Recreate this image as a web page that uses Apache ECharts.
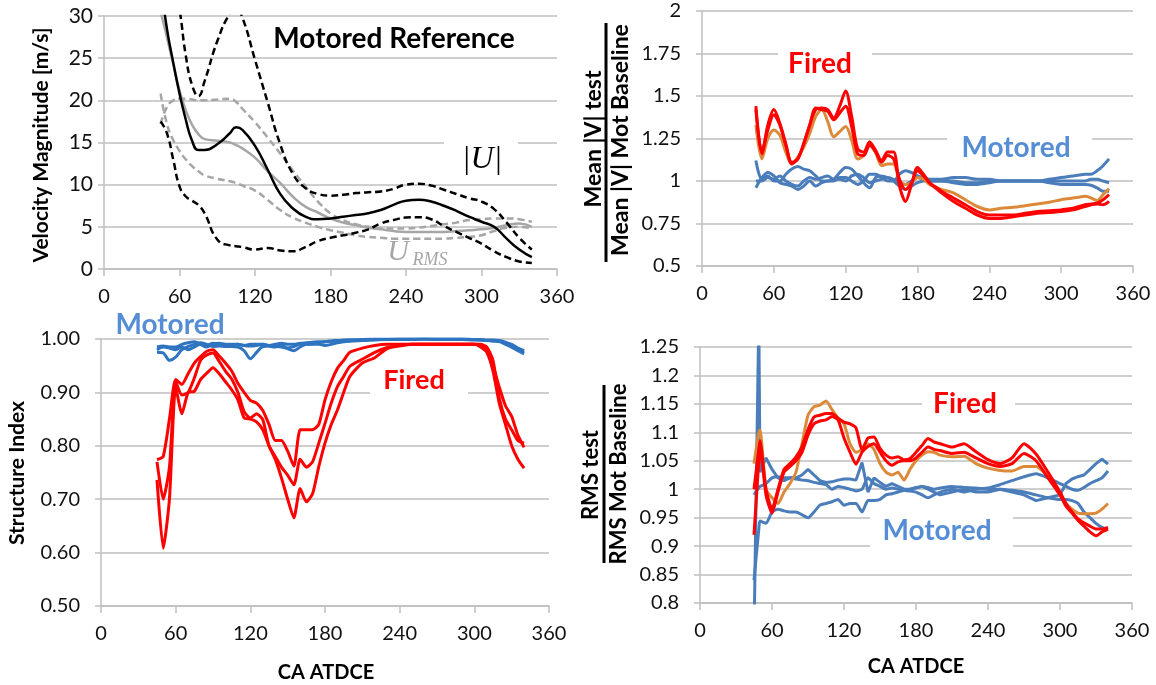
<!DOCTYPE html>
<html>
<head>
<meta charset="utf-8">
<script src="https://cdn.jsdelivr.net/npm/echarts@6/dist/echarts.min.js"></script>
<style>
  html, body { margin: 0; padding: 0; background: #fff; }
  #main { width: 1156px; height: 685px; }
</style>
</head>
<body>
<div id="main"></div>
<script>
// crank angles (deg ATDCE)
const caTop = [45,50,55,60,65,70,75,80,90,100,105,110,120,130,140,150,160,170,180,190,200,210,220,230,240,250,260,270,280,290,300,310,320,330,340];
const ca = [45,50,55,60,65,70,75,80,85,90,95,100,105,110,115,120,125,130,135,140,145,150,155,160,165,170,175,180,185,190,195,200,210,220,230,240,250,260,270,280,290,300,305,310,315,320,325,330,335,340];
const caRms = [45,49,50,55,60,65,70,75,80,85,90,95,100,105,110,115,120,125,130,135,140,145,150,155,160,165,170,175,180,185,190,195,200,210,220,230,240,250,260,270,280,290,300,305,310,315,320,325,330,335,340];

// --- Motored reference velocity magnitude [m/s]
const uMean  = [34,28.5,24.5,20.8,17.7,15.2,14.1,14.1,14.8,16.1,16.8,16.5,14.6,11.8,8.9,7.2,6.2,5.9,6.0,6.2,6.4,6.6,7.0,7.6,8.1,8.2,8.0,7.5,6.9,6.2,5.6,5.0,3.6,2.3,1.4];
const uUpper = [42,38,34.5,30.8,25.3,21.8,20.5,22.3,27,30.3,30.8,29.8,24.8,19.8,14.8,11.3,9.6,8.9,8.7,8.8,9.0,9.1,9.2,9.5,10.0,10.1,9.9,9.4,8.9,8.4,8.0,7.1,5.5,3.7,2.3];
const uLower = [17.5,16.1,13.0,9.8,8.6,8.1,7.6,6.6,3.5,2.8,2.7,2.6,2.3,2.5,2.2,2.1,2.6,3.3,3.7,4.0,4.3,4.7,5.4,5.8,6.1,6.15,5.9,5.1,4.4,3.7,3.0,2.1,1.4,0.9,0.7];
const rmsMean  = [30.5,27.5,24.3,21.2,18.8,17.1,16.0,15.4,15.2,15.0,14.7,14.3,13.2,11.6,10.2,8.6,7.4,6.7,6.0,5.5,5.2,4.9,4.7,4.5,4.4,4.4,4.4,4.4,4.5,4.6,4.7,4.9,5.2,5.4,5.0];
const rmsLower = [20.8,17.2,15.3,14.0,13.0,12.2,11.6,11.1,10.7,10.4,10.2,9.9,9.3,8.2,7.0,6.1,5.5,5.0,4.6,4.3,4.0,3.8,3.7,3.6,3.6,3.6,3.6,3.6,3.7,3.8,4.0,4.5,4.9,5.0,4.8];
const rmsUpper = [17.2,19.2,20.0,20.2,20.2,20.1,20.0,20.0,20.1,20.2,19.8,19.0,17.4,15.6,13.7,11.7,9.8,8.0,6.6,5.8,5.3,5.0,4.8,4.8,4.8,4.9,5.1,5.3,5.5,5.8,5.9,6.0,6.0,5.9,5.6];

// --- Mean |V| ratio
const meanFiredA = [1.44,1.16,1.33,1.42,1.34,1.22,1.11,1.13,1.22,1.33,
  1.42,1.43,1.42,1.37,1.44,1.53,1.38,1.19,1.17,1.23,
  1.18,1.12,1.17,1.17,0.97,0.88,0.98,1.08,1.04,0.99,
  0.96,0.93,0.88,0.84,0.80,0.78,0.78,0.79,0.80,0.81,
  0.815,0.82,0.825,0.83,0.84,0.85,0.86,0.865,0.86,0.88];
const meanFiredB = [1.42,1.17,1.30,1.39,1.33,1.21,1.10,1.13,1.22,1.33,
  1.43,1.42,1.41,1.36,1.40,1.44,1.32,1.16,1.15,1.21,
  1.17,1.11,1.15,1.13,1.01,0.95,0.99,1.06,1.03,0.99,
  0.965,0.94,0.90,0.86,0.82,0.80,0.80,0.80,0.81,0.82,
  0.825,0.83,0.835,0.84,0.85,0.86,0.865,0.87,0.89,0.92];
const meanFiredC = [1.33,1.13,1.25,1.30,1.27,1.17,1.10,1.14,1.20,1.28,
  1.38,1.42,1.35,1.26,1.29,1.32,1.24,1.13,1.15,1.23,
  1.17,1.09,1.10,1.10,1.00,0.98,0.99,1.02,1.01,0.98,
  0.965,0.95,0.93,0.89,0.85,0.83,0.84,0.845,0.855,0.865,
  0.875,0.89,0.895,0.90,0.905,0.91,0.90,0.885,0.92,0.955];
const meanMotA = [1.12,1.01,1.03,1.0,1.0,1.04,1.07,1.085,1.07,1.06,
  1.03,1.0,1.0,1.01,1.05,1.08,1.07,1.03,0.99,0.96,
  1.02,1.03,1.02,1.0,0.97,0.95,0.97,0.99,1.0,1.0,
  1.0,1.0,0.99,0.98,0.98,0.99,1.0,1.0,1.0,1.0,
  1.01,1.02,1.025,1.03,1.035,1.04,1.04,1.06,1.09,1.13];
const meanMotB = [0.96,1.02,1.05,1.03,0.99,0.98,0.97,0.95,0.97,1.0,
  0.97,0.99,1.0,1.0,1.02,1.02,1.0,0.98,1.0,1.04,
  1.04,1.02,1.0,1.0,1.04,1.06,1.05,1.03,1.02,1.01,
  1.01,1.01,1.02,1.02,1.01,1.01,1.0,1.0,1.0,1.0,
  0.99,0.98,0.98,0.98,0.98,0.98,0.975,0.96,0.94,0.94];
const meanMotC = [1.0,1.0,1.02,1.01,1.03,1.0,0.98,0.97,1.0,1.02,
  1.01,1.02,1.03,1.01,1.01,1.0,1.03,1.04,1.02,0.99,
  1.0,1.01,1.02,1.01,0.99,0.98,1.0,1.02,1.01,1.0,
  1.0,1.0,1.0,0.99,0.99,1.0,1.0,1.0,1.0,1.0,
  1.0,1.0,1.0,1.0,1.0,1.0,1.01,1.01,1.0,0.99];

// --- Structure index
const siFiredA = [0.774,0.78,0.85,0.924,0.915,0.935,0.955,0.967,0.977,0.98,
  0.968,0.955,0.94,0.917,0.90,0.885,0.88,0.866,0.84,0.81,
  0.81,0.79,0.762,0.83,0.83,0.83,0.84,0.886,0.92,0.945,
  0.96,0.975,0.983,0.988,0.99,0.99,0.99,0.99,0.99,0.99,
  0.99,0.99,0.988,0.98,0.95,0.91,0.875,0.855,0.82,0.797];
const siFiredB = [0.77,0.70,0.76,0.92,0.895,0.90,0.927,0.96,0.97,0.974,
  0.958,0.94,0.925,0.90,0.864,0.852,0.86,0.849,0.80,0.78,
  0.76,0.745,0.727,0.775,0.76,0.77,0.805,0.842,0.88,0.911,
  0.93,0.949,0.962,0.975,0.984,0.988,0.99,0.99,0.99,0.99,
  0.99,0.99,0.99,0.985,0.96,0.89,0.85,0.83,0.81,0.805];
const siFiredC = [0.736,0.608,0.70,0.91,0.86,0.90,0.902,0.924,0.936,0.946,
  0.935,0.92,0.905,0.886,0.852,0.85,0.845,0.83,0.80,0.775,
  0.74,0.70,0.665,0.72,0.695,0.71,0.761,0.805,0.84,0.867,
  0.90,0.93,0.955,0.965,0.982,0.987,0.99,0.99,0.99,0.99,
  0.99,0.99,0.985,0.975,0.94,0.88,0.84,0.80,0.775,0.758];
const siMotA = [0.985,0.987,0.985,0.985,0.99,0.993,0.995,0.99,0.985,0.99,
  0.992,0.99,0.99,0.99,0.988,0.99,0.99,0.99,0.988,0.99,
  0.992,0.99,0.99,0.992,0.993,0.994,0.995,0.995,0.996,0.997,
  0.998,0.998,0.999,1.0,1.0,1.0,1.0,1.0,1.0,1.0,
  1.0,0.999,0.999,0.998,0.998,0.997,0.994,0.99,0.983,0.978];
const siMotB = [0.975,0.974,0.96,0.966,0.98,0.986,0.99,0.993,0.99,0.986,
  0.987,0.986,0.986,0.985,0.978,0.963,0.975,0.986,0.987,0.986,
  0.985,0.983,0.986,0.99,0.99,0.991,0.993,0.995,0.996,0.997,
  0.997,0.998,0.998,0.999,0.999,1.0,1.0,1.0,0.999,0.999,
  0.999,0.998,0.998,0.997,0.996,0.995,0.99,0.985,0.98,0.975];
const siMotC = [0.98,0.985,0.983,0.98,0.985,0.98,0.985,0.99,0.988,0.992,
  0.99,0.988,0.988,0.99,0.988,0.987,0.988,0.99,0.987,0.985,
  0.988,0.982,0.978,0.985,0.99,0.99,0.99,0.988,0.99,0.993,
  0.995,0.996,0.997,0.998,0.999,0.999,0.999,1.0,1.0,1.0,
  1.0,0.999,0.998,0.997,0.997,0.996,0.992,0.985,0.978,0.972];

// --- RMS ratio
const rmsFiredA = [1.00,1.07,1.085,1.0,0.965,1.0,1.035,1.045,1.057,1.075,
  1.105,1.127,1.13,1.133,1.133,1.125,1.118,1.115,1.108,1.07,
  1.09,1.092,1.072,1.06,1.055,1.057,1.052,1.054,1.065,1.077,
  1.089,1.083,1.08,1.074,1.08,1.066,1.052,1.045,1.055,1.08,
  1.062,1.03,0.995,0.975,0.96,0.948,0.941,0.935,0.93,0.93,0.933];
const rmsFiredB = [0.92,1.05,1.075,0.99,0.958,0.995,1.03,1.04,1.05,1.065,
  1.095,1.115,1.12,1.122,1.128,1.122,1.09,1.065,1.044,1.065,
  1.075,1.08,1.065,1.05,1.042,1.048,1.05,1.05,1.055,1.065,
  1.074,1.07,1.068,1.063,1.065,1.055,1.045,1.04,1.045,1.063,
  1.05,1.02,0.99,0.97,0.958,0.945,0.935,0.925,0.918,0.925,0.93];
const rmsFiredC = [1.045,1.1,1.104,1.0,0.985,0.975,0.995,1.01,1.03,1.08,
  1.13,1.145,1.148,1.155,1.14,1.125,1.115,1.08,1.065,1.07,
  1.08,1.07,1.045,1.03,1.025,1.03,1.016,1.035,1.05,1.06,
  1.066,1.065,1.06,1.057,1.058,1.045,1.037,1.033,1.032,1.04,
  1.04,1.022,0.99,0.975,0.965,0.958,0.957,0.957,0.958,0.965,0.975];
const rmsMotA = [0.74,1.30,1.03,1.055,1.035,1.02,1.015,1.02,1.02,1.025,
  1.035,1.025,1.015,1.012,1.013,1.016,1.018,1.018,1.016,1.047,
  0.995,1.02,1.012,1.005,1.01,1.005,1.0,1.0,1.002,1.005,
  1.0,0.995,0.99,0.995,1.0,0.995,0.995,1.0,0.995,0.99,
  0.98,0.985,0.99,1.01,1.018,1.022,1.025,1.035,1.045,1.053,1.044];
const rmsMotB = [0.84,0.93,0.944,0.94,0.96,0.965,0.962,0.96,0.96,0.955,
  0.95,0.96,0.972,0.975,0.978,0.982,0.972,0.975,0.975,0.96,
  0.98,0.98,0.982,0.99,0.992,0.995,0.998,1.0,1.003,1.005,
  1.003,1.0,1.002,1.005,1.003,1.002,1.0,1.0,0.998,0.995,
  0.99,0.985,0.982,0.982,0.98,0.975,0.96,0.95,0.94,0.933,0.93];
const rmsMotC = [0.99,1.003,1.005,1.01,1.02,1.022,1.02,1.02,1.018,1.016,
  1.015,1.012,1.01,1.008,1.0,1.005,1.003,1.0,0.997,1.0,
  1.02,1.01,1.005,1.0,1.002,1.0,0.998,0.997,0.995,0.99,
  0.985,0.99,0.995,1.0,0.995,1.0,1.002,1.008,1.015,1.022,
  1.027,1.02,1.01,1.005,1.0,0.998,1.003,1.01,1.015,1.02,1.032];

const FONT = 'Lato, "Open Sans", sans-serif';
const GRID_COLOR = '#BFBFBF';
const RED = '#FF0000';
const ORANGE = '#DC8A3A';
const BLUE = '#4A7DBA';
const BLUE_SI = '#2E74C0';
const TEXT_BLUE = '#558ED5';

const pairs = (xs, ys) => xs.map((x, i) => [x, ys[i]]);

function xAxisFor(gridIndex) {
  return {
    type: 'value', gridIndex, min: 0, max: 360, interval: 60,
    axisLine: { onZero: false, lineStyle: { color: GRID_COLOR, width: 1.5 } },
    axisTick: { show: true, length: 7, lineStyle: { color: GRID_COLOR, width: 1.5 } },
    axisLabel: { color: '#111', fontSize: 20, fontFamily: FONT, margin: 18 },
    splitLine: { show: false }
  };
}

function yAxisFor(gridIndex, min, max, interval, margin, fontSize, formatter) {
  return {
    type: 'value', gridIndex, min, max, interval,
    axisLine: { show: true, onZero: false, lineStyle: { color: GRID_COLOR, width: 1.5 } },
    axisTick: { show: true, length: 6, lineStyle: { color: GRID_COLOR, width: 1.5 } },
    axisLabel: { color: '#111', fontSize, fontFamily: FONT, margin, formatter },
    splitLine: { show: true, lineStyle: { color: GRID_COLOR, width: 1.5 } }
  };
}

function line(idx, xs, ys, color, width, dashed, smooth) {
  return {
    type: 'line', xAxisIndex: idx, yAxisIndex: idx,
    data: pairs(xs, ys), symbol: 'none', smooth,
    lineStyle: { color, width, type: dashed ? [7, 4] : 'solid' },
    animation: false
  };
}

function label(text, x, y, font, fill, extra) {
  return Object.assign({
    type: 'text', x, y, z: 101,
    style: { text, font, fill, align: 'center', verticalAlign: 'middle',
             textAlign: 'center', textVerticalAlign: 'middle' }
  }, extra || {});
}

function whiteBox(x, y, w, h) {
  return { type: 'rect', z: 100, shape: { x, y, width: w, height: h }, style: { fill: '#fff' } };
}

const up = { rotation: Math.PI / 2 };
const chart = echarts.init(document.getElementById('main'));

chart.setOption({
  backgroundColor: '#fff',
  animation: false,
  grid: [
    { left: 104, top: 16, width: 453, height: 253 },
    { left: 702, top: 11, width: 431, height: 255 },
    { left: 101, top: 339, width: 448, height: 267 },
    { left: 700, top: 347, width: 432, height: 256 }
  ],
  xAxis: [xAxisFor(0), xAxisFor(1), xAxisFor(2), xAxisFor(3)],
  yAxis: [
    yAxisFor(0, 0, 30, 5, 11, 21),
    yAxisFor(1, 0.5, 2, 0.25, 21, 20),
    yAxisFor(2, 0.5, 1, 0.1, 21, 20, v => v.toFixed(2)),
    yAxisFor(3, 0.8, 1.25, 0.05, 21, 20)
  ],
  series: [
    line(0, caTop, rmsUpper, '#A6A6A6', 2.5, true, true),
    line(0, caTop, rmsLower, '#A6A6A6', 2.5, true, true),
    line(0, caTop, rmsMean, '#A6A6A6', 2.5, false, true),
    line(0, caTop, uUpper, '#000', 2.5, true, true),
    line(0, caTop, uLower, '#000', 2.5, true, true),
    line(0, caTop, uMean, '#000', 2.5, false, true),

    line(1, ca, meanMotA, BLUE, 3, false, 0.3),
    line(1, ca, meanMotB, BLUE, 3, false, 0.3),
    line(1, ca, meanMotC, BLUE, 3, false, 0.3),
    line(1, ca, meanFiredC, ORANGE, 3, false, 0.3),
    line(1, ca, meanFiredB, RED, 3, false, 0.3),
    line(1, ca, meanFiredA, RED, 3, false, 0.3),

    line(2, ca, siMotA, BLUE_SI, 3, false, 0.3),
    line(2, ca, siMotB, BLUE_SI, 3, false, 0.3),
    line(2, ca, siMotC, BLUE_SI, 3, false, 0.3),
    line(2, ca, siFiredA, RED, 3, false, 0.2),
    line(2, ca, siFiredB, RED, 3, false, 0.2),
    line(2, ca, siFiredC, RED, 3, false, 0.2),

    line(3, caRms, rmsMotA, BLUE, 3, false, 0),
    line(3, caRms, rmsMotB, BLUE, 3, false, 0.2),
    line(3, caRms, rmsMotC, BLUE, 3, false, 0.2),
    line(3, caRms, rmsFiredC, ORANGE, 3, false, 0.2),
    line(3, caRms, rmsFiredB, RED, 3, false, 0.2),
    line(3, caRms, rmsFiredA, RED, 3, false, 0.2)
  ],
  graphic: [
    // axis titles
    label('Velocity Magnitude [m/s]', 41, 145, 'bold 21px ' + FONT, '#000', up),
    label('Mean |V| test', 594, 139, 'bold 23px ' + FONT, '#000', up),
    { type: 'line', z: 101, shape: { x1: 606, y1: 23, x2: 606, y2: 262 }, style: { stroke: '#000', lineWidth: 3 } },
    label('Mean |V| Mot Baseline', 621, 140, 'bold 23px ' + FONT, '#000', up),
    label('Structure Index', 17, 473, 'bold 21px ' + FONT, '#000', up),
    label('RMS test', 591, 475, 'bold 22px ' + FONT, '#000', up),
    { type: 'line', z: 101, shape: { x1: 604, y1: 385, x2: 604, y2: 563 }, style: { stroke: '#000', lineWidth: 3 } },
    label('RMS Mot Baseline', 619, 474, 'bold 22px ' + FONT, '#000', up),
    label('CA ATDCE', 326, 673, 'bold 20px ' + FONT, '#000'),
    label('CA ATDCE', 916, 667, 'bold 20px ' + FONT, '#000'),

    // annotations
    label('Motored Reference', 394, 39, 'bold 28px ' + FONT, '#000'),
    whiteBox(444, 130, 74, 52),
    label('|U|', 482, 160, 'italic 32px "Liberation Serif", serif', '#000'),
    label('U', 398, 252, 'italic 30px "Liberation Serif", serif', '#A6A6A6'),
    label('RMS', 430, 260, 'italic 18px "Liberation Serif", serif', '#A6A6A6'),

    whiteBox(778, 45, 94, 40),
    label('Fired', 820, 64, 'bold 28px ' + FONT, RED),
    whiteBox(947, 128, 145, 40),
    label('Motored', 1016, 148, 'bold 28px ' + FONT, TEXT_BLUE),

    label('Motored', 170, 325, 'bold 28px ' + FONT, TEXT_BLUE),
    whiteBox(370, 364, 98, 34),
    label('Fired', 414, 380, 'bold 27px ' + FONT, RED),

    whiteBox(922, 388, 93, 32),
    label('Fired', 965, 404, 'bold 28px ' + FONT, RED),
    whiteBox(870, 510, 143, 42),
    label('Motored', 937, 531, 'bold 28px ' + FONT, TEXT_BLUE)
  ]
});
</script>
</body>
</html>
